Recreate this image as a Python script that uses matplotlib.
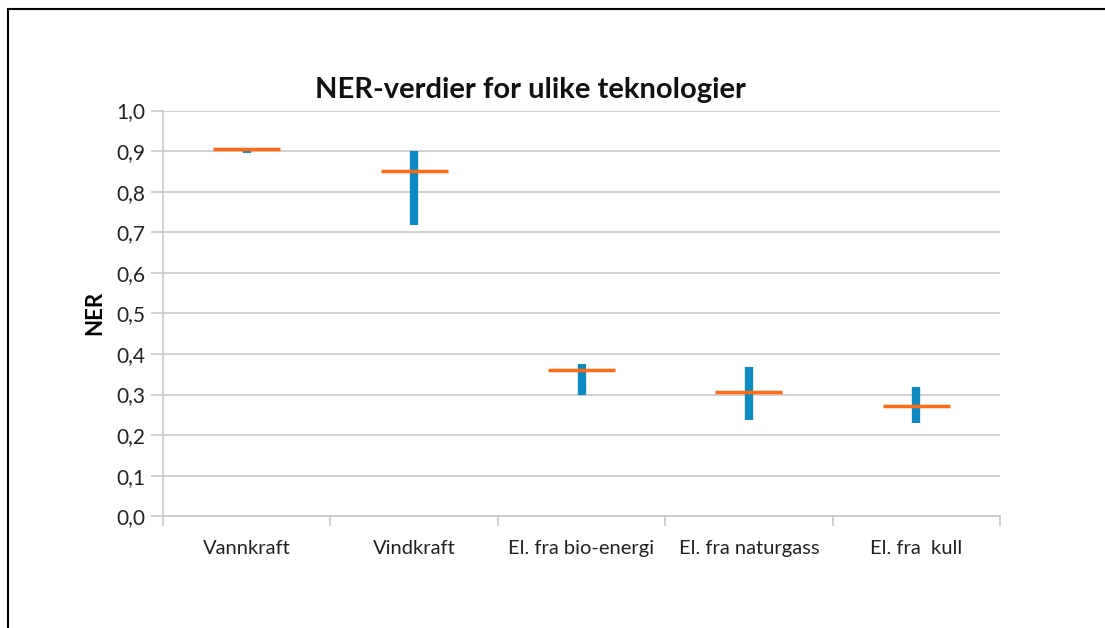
import matplotlib.pyplot as plt
from matplotlib.lines import Line2D

plt.rcParams['font.family'] = ['Lato', 'DejaVu Sans']

categories = ['Vannkraft', 'Vindkraft', 'El. fra bio-energi', 'El. fra naturgass', 'El. fra  kull']
ner_low = [0.895, 0.719, 0.300, 0.236, 0.229]
ner_high = [0.906, 0.901, 0.374, 0.367, 0.318]
ner_mean = [0.905, 0.850, 0.360, 0.305, 0.271]
y_ticks = [0.0, 0.1, 0.2, 0.3, 0.4, 0.5, 0.6, 0.7, 0.8, 0.9, 1.0]

blue = '#0e8ac2'
orange = '#ff6a13'
grid_grey = '#c8c8c8'

fig = plt.figure(figsize=(11.05, 6.28), dpi=100)
ax = fig.add_axes([0.1475, 0.178, 0.7575, 0.646])

x = list(range(len(categories)))
ax.vlines(x, ner_low, ner_high, color=blue, linewidth=6, zorder=3)
ax.hlines(ner_mean, [i - 0.2 for i in x], [i + 0.2 for i in x], color=orange, linewidth=2.5, zorder=4)

ax.set_xlim(-0.5, len(categories) - 0.5)
ax.set_ylim(0, 1.0)
ax.set_yticks(y_ticks)
ax.set_yticklabels([f'{v:.1f}'.replace('.', ',') for v in y_ticks], fontsize=15, color='#222222')
ax.set_xticks(x)
ax.set_xticklabels(categories, fontsize=14.5, color='#222222')
ax.set_xticks([i - 0.5 for i in range(len(categories) + 1)], minor=True)
ax.tick_params(axis='x', which='major', length=0, pad=17)
ax.tick_params(axis='x', which='minor', length=7, color=grid_grey, width=1.2)
ax.tick_params(axis='y', length=9, color=grid_grey, width=1.2, pad=4)
ax.grid(axis='y', color=grid_grey, linewidth=1.2, zorder=0)
ax.set_axisbelow(True)
for side in ['top', 'right']:
    ax.spines[side].set_visible(False)
for side in ['left', 'bottom']:
    ax.spines[side].set_color(grid_grey)
    ax.spines[side].set_linewidth(1.2)

ax.set_ylabel('NER', fontsize=16, fontweight='bold', labelpad=8)
fig.text(0.48, 0.856, 'NER-verdier for ulike teknologier', fontsize=21, fontweight='bold',
         ha='center', va='center', color='#111111')

# page frame lines
fig.add_artist(Line2D([0.0075, 1.0], [0.985, 0.985], color='black', linewidth=1.5))
fig.add_artist(Line2D([0.0075, 0.0075], [0.0, 0.985], color='black', linewidth=1.5))

fig.savefig('out.png', dpi=100)
